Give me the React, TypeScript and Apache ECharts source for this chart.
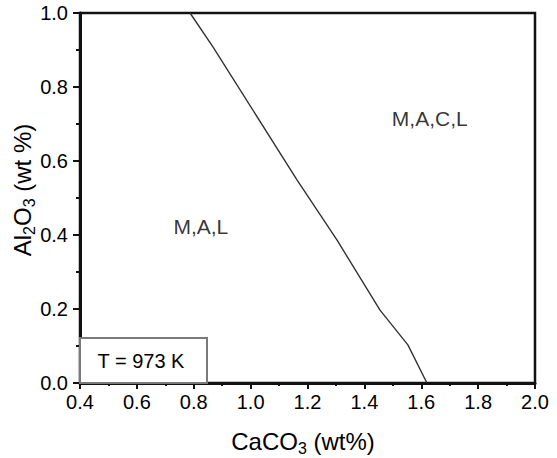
import React, { useEffect, useRef } from "react";
import * as echarts from "echarts";

// Phase boundary at T = 973 K: CaCO3 (x) vs Al2O3 (y), both in wt%
const boundaryCaCO3 = [0.787, 0.868, 1.163, 1.304, 1.455, 1.553, 1.62];
const boundaryAl2O3 = [1.0, 0.908, 0.549, 0.386, 0.197, 0.103, 0.0];

// Phase-field labels and where they sit
const regionNames = ["M,A,L", "M,A,C,L"];
const regionCaCO3 = [0.825, 1.63];
const regionAl2O3 = [0.424, 0.716];

const xTicks = { min: 0.4, max: 2.0, step: 0.2 };
const yTicks = { min: 0.0, max: 1.0, step: 0.2 };

const tempLabel = "T = 973 K";

const FONT = "'Liberation Sans', Arial, Helvetica, sans-serif";
const INK = "#000";

export default function App() {
  const ref = useRef<HTMLDivElement>(null);

  useEffect(() => {
    if (!ref.current) return;
    const chart = echarts.init(ref.current, undefined, { renderer: "svg" });

    const grid = { left: 80, top: 13, right: 22, bottom: 75 };

    const titleRich = {
      n: { fontSize: 24, fontFamily: FONT, color: INK, lineHeight: 30 },
      s: {
        fontSize: 16,
        fontFamily: FONT,
        color: INK,
        lineHeight: 16,
        verticalAlign: "bottom",
      },
    };

    chart.setOption({
      animation: false,
      backgroundColor: "#fff",
      textStyle: { fontFamily: FONT },
      grid: {
        ...grid,
        show: true,
        borderColor: "#111",
        borderWidth: 2.5,
        backgroundColor: "transparent",
      },
      xAxis: {
        type: "value",
        min: xTicks.min,
        max: xTicks.max,
        interval: xTicks.step,
        axisLine: { show: true, lineStyle: { color: "#111", width: 3 } },
        axisTick: { show: true, length: 6, lineStyle: { color: "#111", width: 2 } },
        minorTick: {
          show: true,
          splitNumber: 2,
          length: 3,
          lineStyle: { color: "#111", width: 2 },
        },
        splitLine: { show: false },
        axisLabel: {
          color: INK,
          fontSize: 20,
          fontFamily: FONT,
          margin: 9,
          formatter: (v: number) => v.toFixed(1),
        },
      },
      yAxis: {
        type: "value",
        min: yTicks.min,
        max: yTicks.max,
        interval: yTicks.step,
        axisLine: { show: true, lineStyle: { color: "#111", width: 3 } },
        axisTick: { show: true, length: 7, lineStyle: { color: "#111", width: 2 } },
        minorTick: {
          show: true,
          splitNumber: 2,
          length: 4,
          lineStyle: { color: "#111", width: 2 },
        },
        splitLine: { show: false },
        axisLabel: {
          color: INK,
          fontSize: 20,
          fontFamily: FONT,
          margin: 12,
          formatter: (v: number) => v.toFixed(1),
        },
      },
      series: [
        {
          type: "line",
          data: boundaryCaCO3.map((x, i) => [x, boundaryAl2O3[i]]),
          showSymbol: false,
          symbol: "none",
          lineStyle: { color: "#333", width: 1.4 },
          z: 3,
        },
        {
          type: "scatter",
          symbolSize: 0,
          data: regionNames.map((name, i) => ({
            name,
            value: [regionCaCO3[i], regionAl2O3[i]],
          })),
          label: {
            show: true,
            position: "inside",
            formatter: "{b}",
            color: INK,
            fontSize: 21,
            fontFamily: FONT,
          },
          silent: true,
        },
      ],
      graphic: [
        {
          type: "rect",
          shape: { x: 80, y: 338, width: 127, height: 45 },
          style: { fill: "#fff", stroke: "#7a7a7a", lineWidth: 2 },
          z: 5,
        },
        {
          type: "text",
          x: 141,
          y: 361,
          z: 6,
          style: {
            text: tempLabel,
            fontSize: 20,
            fontFamily: FONT,
            fill: INK,
            align: "center",
            verticalAlign: "middle",
          },
        },
        {
          type: "text",
          x: 303,
          y: 441,
          style: {
            text: "{n|CaCO}{s|3}{n| (wt%)}",
            rich: titleRich,
            align: "center",
            verticalAlign: "middle",
          },
        },
        {
          type: "text",
          x: 22,
          y: 190,
          rotation: Math.PI / 2,
          style: {
            text: "{n|Al}{s|2}{n|O}{s|3}{n| (wt %)}",
            rich: titleRich,
            align: "center",
            verticalAlign: "middle",
          },
        },
      ],
    });

    return () => chart.dispose();
  }, []);

  return (
    <div
      ref={ref}
      style={{ position: "absolute", left: 0, top: 0, width: 557, height: 458 }}
    />
  );
}
